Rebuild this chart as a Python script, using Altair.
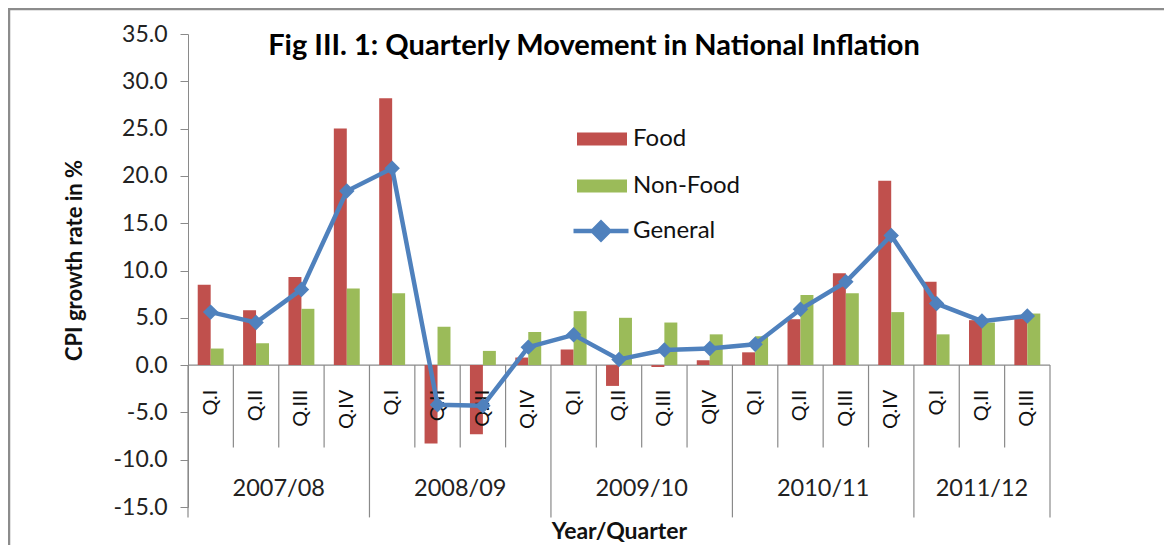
import altair as alt
import pandas as pd

# ---------------- data ----------------
years = ["2007/08"] * 4 + ["2008/09"] * 4 + ["2009/10"] * 4 + ["2010/11"] * 4 + ["2011/12"] * 3
quarters = ["Q.I", "Q.II", "Q.III", "Q.IV",
            "Q.I", "Q.II", "Q.III", "Q.IV",
            "Q.I", "Q.II", "Q.III", "QIV",
            "Q.I", "Q.II", "Q.III", "Q.IV",
            "Q.I", "Q.II", "Q.III"]
food = [8.5, 5.8, 9.3, 25.0, 28.2, -8.3, -7.3, 0.8, 1.65, -2.2, -0.2, 0.5,
        1.35, 4.85, 9.7, 19.5, 8.8, 4.75, 4.9]
nonfood = [1.75, 2.3, 5.95, 8.1, 7.6, 4.05, 1.5, 3.5, 5.7, 5.0, 4.5, 3.25,
           3.05, 7.4, 7.6, 5.6, 3.25, 4.5, 5.45]
general = [5.6, 4.5, 8.0, 18.4, 20.8, -4.2, -4.3, 1.9, 3.2, 0.6, 1.6, 1.75,
           2.2, 5.9, 8.8, 13.7, 6.5, 4.65, 5.2]
year_labels = ["2007/08", "2008/09", "2009/10", "2010/11", "2011/12"]
y_ticks = [-15, -10, -5, 0, 5, 10, 15, 20, 25, 30, 35]

FONT = "Lato"
RED, GREEN, BLUE = "#C0504D", "#9BBB59", "#4F81BD"
AXIS_GREY = "#8a8a8a"
W, H = 862, 473

n = len(quarters)
idx = list(range(n))

bars_df = pd.DataFrame(
    {"idx": idx * 2,
     "bar_series": ["Food"] * n + ["Non-Food"] * n,
     "value": food + nonfood})
line_df = pd.DataFrame({"idx": idx, "line_series": ["General"] * n, "value": general})
q_df = pd.DataFrame({"idx": idx, "quarter": quarters})

# separators between quarters (short) and between years (long)
group_start = [i for i in idx if i == 0 or years[i] != years[i - 1]]
SHORT, LONG = -8.7, -16.1
sep_df = pd.DataFrame({"idx": idx, "top": [0] * n,
                       "bottom": [LONG if i in group_start else SHORT for i in idx]})
end_df = pd.DataFrame({"idx": [n - 1], "top": [0], "bottom": [LONG]})

# year label anchors
yr4, yr3 = [], []
for y in year_labels:
    members = [i for i in idx if years[i] == y]
    if len(members) % 2 == 0:
        yr4.append({"idx": members[len(members) // 2 - 1], "year": y})
    else:
        yr3.append({"idx": members[len(members) // 2], "year": y})
yr4_df = pd.DataFrame(yr4)
yr3_df = pd.DataFrame(yr3)

x_scale = alt.Scale(paddingInner=0, paddingOuter=0)
x_axis = alt.Axis(labels=False, ticks=False, domain=False, title="Year/Quarter",
                  titleFont=FONT, titleFontSize=23, titleFontWeight="bold",
                  titleColor="#111", titlePadding=13)
y_scale = alt.Scale(domain=[-15, 35], nice=False, zero=False)
y_axis = alt.Axis(values=y_ticks, grid=False, tickSize=8,
                  labelExpr="replace(format(datum.value, '.1f'), '\u2212', '-')",
                  labelPadding=13, labelFont=FONT, labelFontSize=23, labelColor="#222",
                  domainColor=AXIS_GREY, tickColor=AXIS_GREY,
                  title="CPI growth rate in %", titleFont=FONT, titleFontSize=22,
                  titleFontWeight="bold", titleColor="#111",
                  titleX=-114, titleY=226, titleAngle=270, titleAlign="center",
                  titleBaseline="middle")


def X(**kw):
    return alt.X("idx:O", scale=x_scale, axis=x_axis, **kw)


bars = alt.Chart(bars_df).mark_bar().encode(
    x=X(),
    xOffset=alt.XOffset("bar_series:N", sort=["Food", "Non-Food"],
                        scale=alt.Scale(paddingInner=0, paddingOuter=0.75)),
    y=alt.Y("value:Q", scale=y_scale, axis=y_axis),
    fill=alt.Fill("bar_series:N",
                  scale=alt.Scale(domain=["Food", "Non-Food"], range=[RED, GREEN]),
                  legend=alt.Legend(title=None, orient="none", legendX=389, legendY=80,
                                    symbolType="M-1,-0.26H1V0.26H-1Z", symbolSize=2500,
                                    symbolStrokeWidth=0, labelFont=FONT, labelFontSize=24,
                                    labelColor="#111", labelOffset=6, rowPadding=10,
                                    padding=0)),
)

zero_line = alt.Chart(pd.DataFrame({"v": [0]})).mark_rule(color=AXIS_GREY, strokeWidth=1.2).encode(
    y=alt.Y("v:Q", scale=y_scale, axis=y_axis))

seps = alt.Chart(sep_df).mark_rule(color=AXIS_GREY, strokeWidth=1.2).encode(
    x=X(bandPosition=0),
    y=alt.Y("top:Q", scale=y_scale, axis=y_axis), y2="bottom:Q")
end_sep = alt.Chart(end_df).mark_rule(color=AXIS_GREY, strokeWidth=1.2).encode(
    x=X(bandPosition=1),
    y=alt.Y("top:Q", scale=y_scale, axis=y_axis), y2="bottom:Q")

q_labels = alt.Chart(q_df).mark_text(angle=270, align="right", baseline="middle",
                                     font=FONT, fontSize=20, color="#111").encode(
    x=X(), y=alt.datum(-2.6), text="quarter:N")

yr4_labels = alt.Chart(yr4_df).mark_text(align="center", baseline="middle",
                                         font=FONT, fontSize=23.5, color="#222").encode(
    x=X(bandPosition=1), y=alt.datum(-13.1), text="year:N")
yr3_labels = alt.Chart(yr3_df).mark_text(align="center", baseline="middle",
                                         font=FONT, fontSize=23.5, color="#222").encode(
    x=X(bandPosition=0.5), y=alt.datum(-13.1), text="year:N")

line = alt.Chart(line_df).mark_line(strokeWidth=4.5).encode(
    x=X(),
    y=alt.Y("value:Q", scale=y_scale, axis=y_axis),
    stroke=alt.Stroke("line_series:N",
                      scale=alt.Scale(domain=["General"], range=[BLUE]),
                      legend=alt.Legend(title=None, orient="none", legendX=383, legendY=167,
                                        symbolType="M-1,0H1M-0.3,0L0,-0.3L0.3,0L0,0.3Z",
                                        symbolSize=3025, symbolStrokeWidth=4.5,
                                        symbolFillColor=BLUE, labelFont=FONT,
                                        labelFontSize=24, labelColor="#111",
                                        labelOffset=2, padding=0)),
)
points = alt.Chart(line_df).mark_point(shape="diamond", filled=True, size=240,
                                       color=BLUE, opacity=1).encode(
    x=X(), y=alt.Y("value:Q", scale=y_scale, axis=y_axis))

frame = alt.Chart(pd.DataFrame({"a": [0]})).mark_rect(
    fillOpacity=0, stroke="#8c8c8c", strokeWidth=2.5).encode(
    x=alt.value(-179), x2=alt.value(1300), y=alt.value(-25), y2=alt.value(900))

chart = alt.layer(
    frame, zero_line, bars, seps, end_sep, q_labels, yr4_labels, yr3_labels, line, points
).properties(
    width=W, height=H,
    autosize=alt.AutoSizeParams(type="none"),
    padding={"left": 180, "top": 26, "right": 114, "bottom": 38},
    title=alt.TitleParams("Fig III. 1: Quarterly Movement in National Inflation",
                          font=FONT, fontSize=29, fontWeight="bold", color="#000",
                          anchor="middle", frame="group", dx=-25, dy=57),
    background="white",
).resolve_legend(fill="independent", stroke="independent").configure_view(strokeWidth=0)

chart.save("out.html", embed_options={"renderer": "svg", "actions": False})
